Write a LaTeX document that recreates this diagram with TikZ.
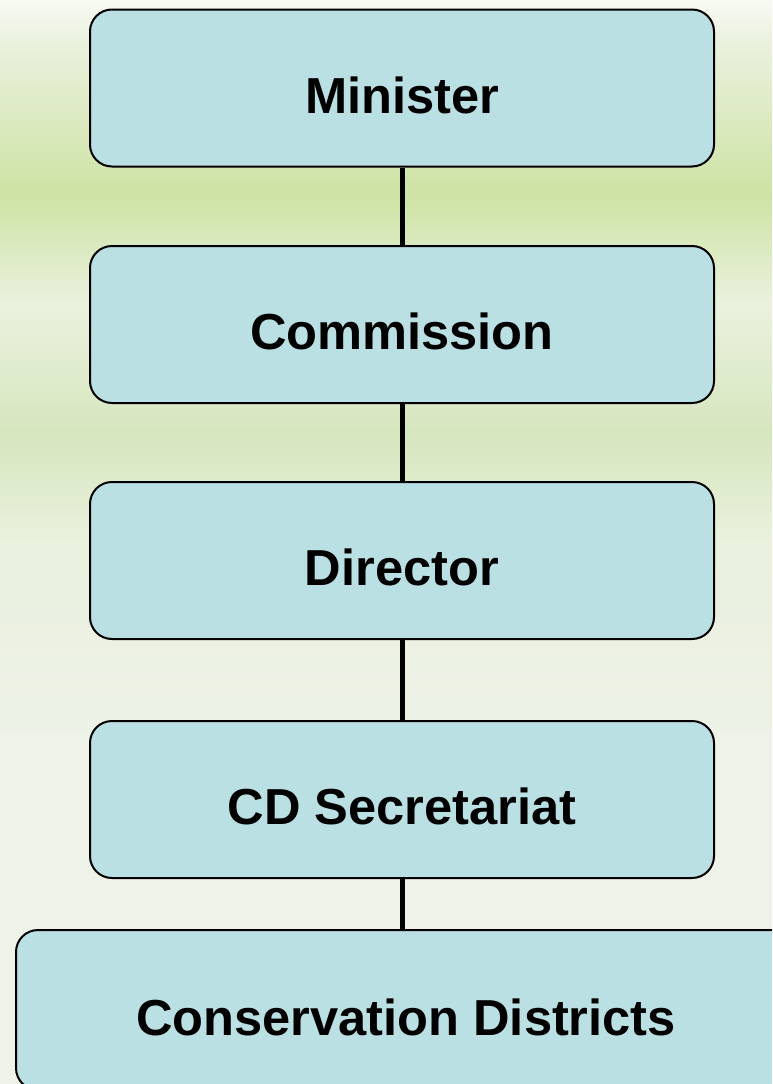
\documentclass[tikz,border=0pt]{standalone}
\usepackage{fontspec}
\setmainfont{Liberation Sans}
\definecolor{boxfill}{RGB}{186,224,228}
\definecolor{bgwhite}{RGB}{248,250,244}
\definecolor{bggreen}{RGB}{206,227,164}
\definecolor{bgpale}{RGB}{234,241,222}
\definecolor{bgmid}{RGB}{214,230,190}
\definecolor{bglow}{RGB}{238,242,233}
\pgfdeclareverticalshading{fieldbg}{100bp}{color(0bp)=(bglow); color(25bp)=(bglow); color(40bp)=(bglow); color(50bp)=(bgpale); color(55bp)=(bgmid); color(61bp)=(bgpale); color(66bp)=(bggreen); color(73bp)=(bgpale); color(75bp)=(bgwhite); color(100bp)=(bgwhite)}
\begin{document}
\begin{tikzpicture}[x=1pt,y=-1pt,line join=round,line cap=round]
			\tikzset{box style/.style={draw=black,line width=2pt,fill=boxfill,rounded corners=22pt,minimum width=624pt,minimum height=157pt,inner sep=0pt,text height=50pt,text depth=0pt,font=\fontsize{50.6}{60}\selectfont\bfseries},
				link style/.style={line width=5pt,line cap=butt}}
			\def \picwd{772}
			\def \picht{1084}
			\def \xmid{402}
			\useasboundingbox (0,0) rectangle (\picwd,\picht);
			\clip (0,0) rectangle (\picwd,\picht);
			\shade[shading=fieldbg] (0,0) rectangle (\picwd,\picht);
			% boxes
			\node[box style] (minister) at (\xmid,88) {Minister};
			\node[box style] (commission) at (\xmid,324.5) {Commission};
			\node[box style] (director) at (\xmid,560.5) {Director};
			\node[box style] (secretariat) at (\xmid,799.5) {CD Secretariat};
			\node[box style,minimum width=780pt,minimum height=160pt] (districts) at (406,1010) {Conservation Districts};
			% links
			\draw[link style] (minister.south) -- (commission.north);
			\draw[link style] (commission.south) -- (director.north);
			\draw[link style] (director.south) -- (secretariat.north);
			\draw[link style] (secretariat.south) -- (secretariat.south |- districts.north);
		\end{tikzpicture}
\end{document}
